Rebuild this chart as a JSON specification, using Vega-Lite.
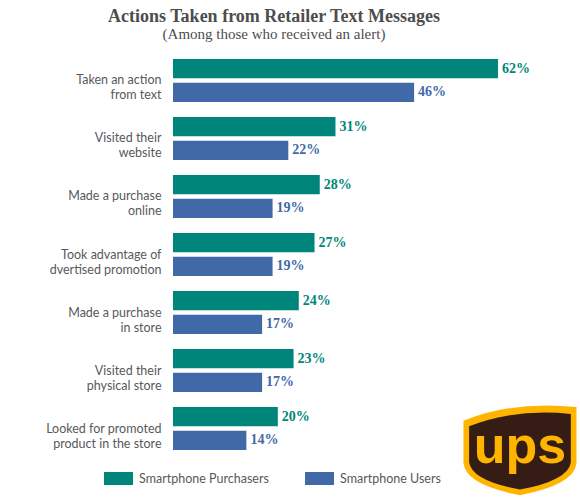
{
  "$schema": "https://vega.github.io/schema/vega-lite/v6.json",
  "width": 380,
  "height": 405,
  "autosize": "none",
  "padding": {"left": 173, "top": 52, "right": 27, "bottom": 41},
  "background": "white",
  "config": {"view": {"stroke": null}},
  "title": {
    "text": "Actions Taken from Retailer Text Messages",
    "subtitle": "(Among those who received an alert)",
    "anchor": "middle",
    "frame": "group",
    "dx": -89,
    "font": "Liberation Serif",
    "fontSize": 18,
    "fontWeight": "bold",
    "color": "#4d4d4d",
    "subtitleFont": "Liberation Serif",
    "subtitleFontSize": 15,
    "subtitleColor": "#4d4d4d",
    "subtitlePadding": 1,
    "offset": 10
  },
  "data": {
    "values": [
      {"action": "Taken an action|from text", "series": "Smartphone Purchasers", "value": 0.62},
      {"action": "Taken an action|from text", "series": "Smartphone Users", "value": 0.46},
      {"action": "Visited their|website", "series": "Smartphone Purchasers", "value": 0.31},
      {"action": "Visited their|website", "series": "Smartphone Users", "value": 0.22},
      {"action": "Made a purchase|online", "series": "Smartphone Purchasers", "value": 0.28},
      {"action": "Made a purchase|online", "series": "Smartphone Users", "value": 0.19},
      {"action": "Took advantage of|dvertised promotion", "series": "Smartphone Purchasers", "value": 0.27},
      {"action": "Took advantage of|dvertised promotion", "series": "Smartphone Users", "value": 0.19},
      {"action": "Made a purchase|in store", "series": "Smartphone Purchasers", "value": 0.24},
      {"action": "Made a purchase|in store", "series": "Smartphone Users", "value": 0.17},
      {"action": "Visited their|physical store", "series": "Smartphone Purchasers", "value": 0.23},
      {"action": "Visited their|physical store", "series": "Smartphone Users", "value": 0.17},
      {"action": "Looked for promoted|product in the store", "series": "Smartphone Purchasers", "value": 0.20},
      {"action": "Looked for promoted|product in the store", "series": "Smartphone Users", "value": 0.14}
    ]
  },
  "layer": [
    {
      "mark": {"type": "bar"},
      "encoding": {
        "y": {
          "field": "action",
          "type": "nominal",
          "sort": null,
          "scale": {"paddingInner": 0.26, "paddingOuter": 0.12},
          "axis": {
            "title": null,
            "domain": false,
            "ticks": false,
            "labelPadding": 12,
            "labelFont": "Lato",
            "labelFontSize": 12.5,
            "labelColor": "#58595b",
            "labelLineHeight": 15,
            "labelLimit": 250,
            "labelExpr": "split(datum.value, '|')"
          }
        },
        "x": {"field": "value", "type": "quantitative", "scale": {"domain": [0, 0.725], "nice": false, "zero": true}, "axis": null},
        "yOffset": {"field": "series", "type": "nominal", "sort": null, "scale": {"paddingInner": 0.19}},
        "color": {
          "field": "series",
          "type": "nominal",
          "scale": {"domain": ["Smartphone Purchasers", "Smartphone Users"], "range": ["#00857a", "#4169a8"]},
          "legend": {
            "orient": "none",
            "legendX": -69,
            "legendY": 412,
            "direction": "horizontal",
            "title": null,
            "symbolType": "M-1,-0.448H1V0.448H-1Z",
            "symbolSize": 841,
            "symbolStrokeWidth": 0,
            "labelFont": "Lato",
            "labelFontSize": 12.5,
            "labelColor": "#58595b",
            "labelOffset": 6,
            "columnPadding": 36
          }
        }
      }
    },
    {
      "mark": {"type": "text", "align": "left", "baseline": "middle", "dx": 4, "font": "Liberation Serif", "fontWeight": "bold", "fontSize": 14},
      "encoding": {
        "y": {"field": "action", "type": "nominal", "sort": null},
        "x": {"field": "value", "type": "quantitative", "scale": {"domain": [0, 0.725], "nice": false}},
        "yOffset": {"field": "series", "type": "nominal", "sort": null, "scale": {"paddingInner": 0.19}},
        "text": {"field": "value", "type": "quantitative", "format": ".0%"},
        "color": {"field": "series", "type": "nominal", "legend": null}
      }
    },
    {
      "data": {"values": [{"logo": "ups"}]},
      "mark": {"type": "point", "filled": true, "fill": "#ffb500", "opacity": 1, "strokeWidth": 0, "size": 12769, "shape": "M-1,-0.14Q-0.1,-0.5 1,-0.38L1,0.62Q0.95,1.0 0,1.18Q-0.95,1.0 -1,0.62Z"},
      "encoding": {
        "x": {"datum": 0.662, "type": "quantitative", "scale": {"domain": [0, 0.725], "nice": false}},
        "y": {"datum": "Looked for promoted|product in the store", "type": "nominal"}
      }
    },
    {
      "data": {"values": [{"logo": "ups"}]},
      "mark": {"type": "point", "filled": true, "fill": "#351c15", "opacity": 1, "strokeWidth": 0, "size": 12769, "shape": "M-0.9,-0.04Q-0.1,-0.36 0.9,-0.26L0.9,0.6Q0.85,0.92 0,1.08Q-0.85,0.92 -0.9,0.6Z"},
      "encoding": {
        "x": {"datum": 0.662, "type": "quantitative", "scale": {"domain": [0, 0.725], "nice": false}},
        "y": {"datum": "Looked for promoted|product in the store", "type": "nominal"}
      }
    },
    {
      "data": {"values": [{"logo": "ups"}]},
      "mark": {"type": "text", "font": "Liberation Sans", "fontWeight": "bold", "fontSize": 52, "fill": "#ffb500", "align": "center", "baseline": "middle", "dy": 18},
      "encoding": {
        "text": {"field": "logo"},
        "x": {"datum": 0.662, "type": "quantitative", "scale": {"domain": [0, 0.725], "nice": false}},
        "y": {"datum": "Looked for promoted|product in the store", "type": "nominal"}
      }
    }
  ],
  "resolve": {"legend": {"color": "independent"}}
}
